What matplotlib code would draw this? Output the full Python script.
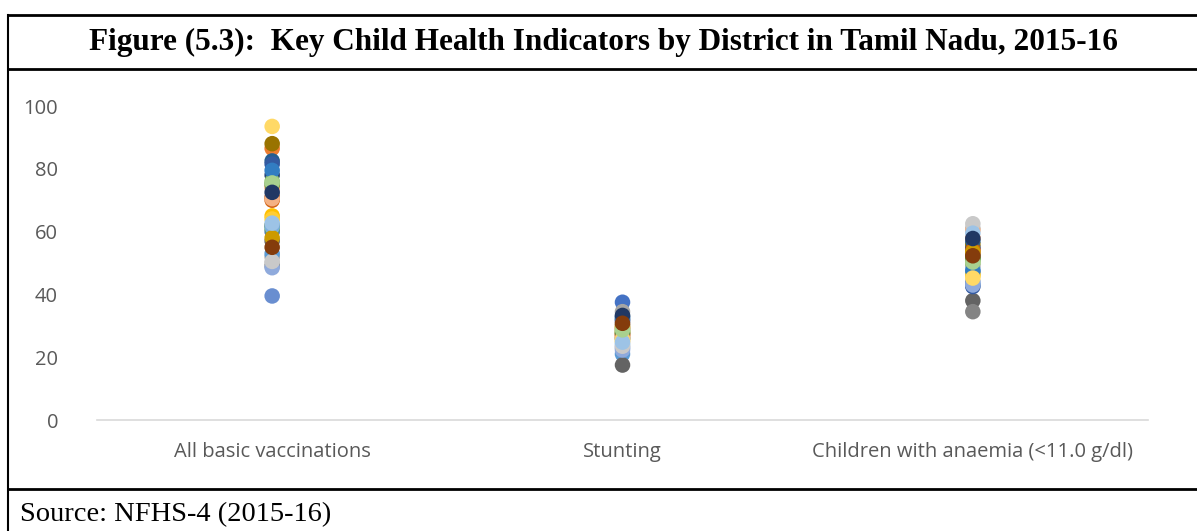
import numpy as np
import matplotlib.pyplot as plt
from matplotlib.lines import Line2D

# Categorias e valores por distrito (32 series, paleta do Excel)
categorias = ['All basic vaccinations', 'Stunting', 'Children with anaemia (<11.0 g/dl)']

vacinacao = [60, 86.5, 52, 65, 53, 61, 78, 71, 57, 88, 82.5, 62, 39.5, 74, 50, 64,
             61.5, 76, 81.5, 70, 49, 58, 79.5, 75, 48.5, 70.5, 50.5, 93.5, 62.7, 75.5, 72.5, 55]
nanismo = [37.5, 27, 34.5, 28, 21, 26, 32, 29, 17.5, 30, 33, 27.5, 23, 26.5, 30.5, 25,
           24, 28.5, 31.5, 27.2, 26, 29.5, 32.5, 28, 22.3, 26, 23.5, 25.5, 24.8, 28.7, 33.3, 30.8]
anemia = [47, 54.5, 49, 46, 43, 51, 55, 53, 38, 56, 57, 52, 44, 58, 61, 46.5,
          48, 50, 42.5, 54, 34.5, 53.5, 47.5, 51.5, 43, 60.5, 62.5, 45.2, 59.5, 50.3, 57.8, 52.3]

cores = ['#4472C4', '#ED7D31', '#A5A5A5', '#FFC000', '#5B9BD5', '#70AD47',
         '#264478', '#9E480E', '#636363', '#997300', '#255E91', '#43682B',
         '#698ED0', '#F1975A', '#B7B7B7', '#FFCD33', '#7CAFDD', '#8CC168',
         '#335AA1', '#D26012', '#848484', '#CC9A00', '#327DC2', '#5A8A39',
         '#8FAADC', '#F4B183', '#C9C9C9', '#FFD966', '#9DC3E6', '#A9D18E',
         '#203864', '#843C0C']

W, H = 1197, 531
fig = plt.figure(figsize=(W/100, H/100), dpi=100)

# Eixo principal
ax = fig.add_axes([97/W, (H-420)/H, 1051/W, 314/H])
x = np.arange(len(categorias))
for k in range(len(cores)):
    ax.scatter(x, [vacinacao[k], nanismo[k], anemia[k]], s=125, color=cores[k],
               edgecolors='none', zorder=3, clip_on=False)

ax.set_xlim(-0.5, 2.5)
ax.set_ylim(0, 100)
ax.set_yticks(range(0, 101, 20))
ax.set_xticks(x)
ax.set_xticklabels(categorias)
for s in ['top', 'right', 'left']:
    ax.spines[s].set_visible(False)
ax.spines['bottom'].set_color('#D9D9D9')
ax.spines['bottom'].set_linewidth(1.2)
ax.tick_params(length=0, labelsize=14.5, labelcolor='#595959')
ax.tick_params(axis='y', pad=28)
ax.tick_params(axis='x', pad=16)
for t in ax.get_xticklabels() + ax.get_yticklabels():
    t.set_fontfamily('Open Sans')

# Moldura da figura
def linha(x0, y0, x1, y1, lw=2):
    fig.add_artist(Line2D([x0/W, x1/W], [1-y0/H, 1-y1/H], color='black', lw=lw))

linha(7.5, 14.5, W, 14.5)
linha(7.5, 68.5, W, 68.5)
linha(7.5, 489, W, 489)
linha(7.5, 14.5, 7.5, H, lw=1.5)

fig.text(603/W, 1-42/H, 'Figure (5.3):  Key Child Health Indicators by District in Tamil Nadu, 2015-16',
         ha='center', va='center', fontsize=22.5, fontweight='bold', family='Liberation Serif')
fig.text(20/W, 1-515/H, 'Source: NFHS-4 (2015-16)', ha='left', va='center',
         fontsize=20.5, family='Liberation Serif')

plt.savefig('out.png', dpi=100)
